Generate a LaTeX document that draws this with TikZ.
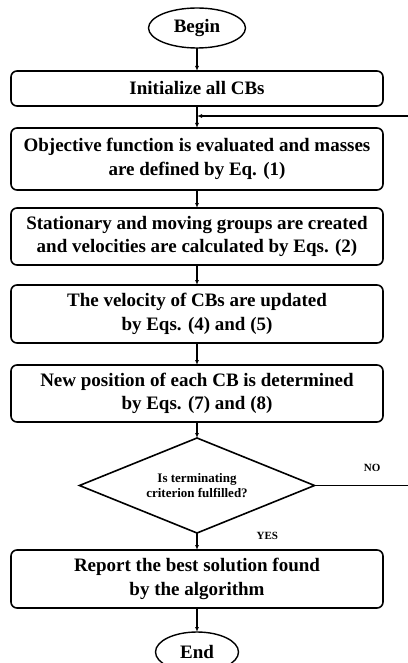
\documentclass[tikz,border=0pt]{standalone}
\usepackage{fontspec}
\setmainfont{Liberation Serif}
\usepackage{tikz}
\usetikzlibrary{arrows.meta,positioning,shapes}

\tikzset{
  stepbox/.style={draw,line width=1.6pt,rounded corners=6pt,minimum width=372pt,align=center,
    font=\fontsize{19}{23.5}\selectfont\bfseries,inner sep=2pt,outer sep=0pt},
  terminal/.style={draw,ellipse,line width=1.4pt,font=\fontsize{19}{23}\selectfont\bfseries,inner sep=0pt,outer sep=0pt},
  decision/.style={draw,diamond,line width=1.6pt,minimum width=235pt,minimum height=95pt,aspect=2.47,
    align=center,inner sep=0pt,outer sep=0pt,font=\fontsize{13}{15}\selectfont\bfseries},
  lbl/.style={inner sep=0pt,font=\fontsize{11}{13}\selectfont\bfseries},
}

\begin{document}
\begin{tikzpicture}[>={Latex[length=5pt,width=4pt]},line width=1.2pt]
\useasboundingbox (0,0) rectangle (407pt,-663pt);
\node[terminal,minimum width=97pt,minimum height=40pt] (begin) at (197pt,-28pt) {Begin};
\node[stepbox,below=23pt of begin,minimum height=35pt] (init) {Initialize all CBs};
\node[stepbox,below=22pt of init,minimum height=62pt] (obj) {Objective function is evaluated and masses\\are defined by Eq. (1)};
\node[stepbox,below=18pt of obj,minimum height=57pt] (groups) {Stationary and moving groups are created\\and velocities are calculated by Eqs. (2)};
\node[stepbox,below=20pt of groups,minimum height=58pt] (vel) {The velocity of CBs are updated\\by Eqs. (4) and (5)};
\node[stepbox,below=22pt of vel,minimum height=57pt] (pos) {New position of each CB is determined\\by Eqs. (7) and (8)};
\node[decision,below=16pt of pos] (dec) {Is terminating\\criterion fulfilled?};
\node[stepbox,below=17pt of dec,minimum height=58pt] (report) {Report the best solution found\\by the algorithm};
\node[terminal,below=24pt of report,minimum width=83pt,minimum height=40pt] (end) {End};
\coordinate[below=10pt of init.south] (fb);
% main flow
\draw[->] (begin)--(init); \draw[->] (init)--(obj); \draw[->] (obj)--(groups);
\draw[->] (groups)--(vel); \draw[->] (vel)--(pos); \draw[->] (pos)--(dec);
\draw[->] (dec)-- node[lbl,pos=0.2,right=59pt]{YES} (report);
\draw[->] (report)--(end);
% loop back
\draw[->] (dec.east)-- node[lbl,pos=0.6,above=13pt]{NO} ++(96pt,0) |- (fb);
\end{tikzpicture}
\end{document}
